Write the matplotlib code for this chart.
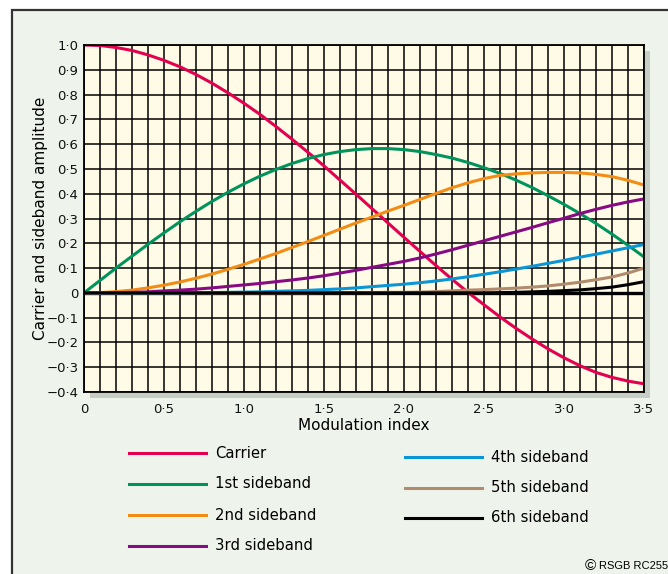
import numpy as np
import matplotlib.pyplot as plt
from matplotlib.lines import Line2D
from matplotlib.patches import Rectangle
from matplotlib.ticker import FuncFormatter

# modulation index, sampled every 0.1
index = np.linspace(0, 3.5, 36)

carrier = [1.000, 0.998, 0.990, 0.978, 0.960, 0.938, 0.912, 0.881, 0.846, 0.807,
           0.765, 0.720, 0.671, 0.620, 0.567, 0.512, 0.455, 0.398, 0.340, 0.282,
           0.224, 0.167, 0.110, 0.055, 0.002, -0.048, -0.097, -0.143, -0.186, -0.226,
           -0.262, -0.294, -0.321, -0.341, -0.356, -0.367]
side1 = [0.000, 0.050, 0.100, 0.148, 0.196, 0.242, 0.287, 0.329, 0.369, 0.406,
         0.440, 0.471, 0.498, 0.522, 0.542, 0.558, 0.570, 0.578, 0.582, 0.582,
         0.578, 0.570, 0.558, 0.544, 0.526, 0.505, 0.482, 0.455, 0.425, 0.392,
         0.357, 0.320, 0.280, 0.237, 0.192, 0.145]
side2 = [0.000, 0.001, 0.005, 0.011, 0.020, 0.031, 0.044, 0.059, 0.076, 0.095,
         0.115, 0.137, 0.159, 0.183, 0.207, 0.232, 0.257, 0.282, 0.306, 0.330,
         0.353, 0.377, 0.401, 0.424, 0.444, 0.461, 0.474, 0.480, 0.484, 0.486,
         0.486, 0.484, 0.478, 0.469, 0.454, 0.435]
side3 = [0.000, 0.000, 0.001, 0.002, 0.004, 0.008, 0.011, 0.015, 0.020, 0.026,
         0.032, 0.038, 0.045, 0.052, 0.060, 0.069, 0.080, 0.091, 0.103, 0.115,
         0.127, 0.141, 0.157, 0.174, 0.192, 0.210, 0.228, 0.246, 0.264, 0.283,
         0.301, 0.320, 0.337, 0.353, 0.367, 0.379]
side4 = [0.000, 0.000, 0.000, 0.000, 0.000, 0.000, 0.000, 0.001, 0.001, 0.002,
         0.003, 0.004, 0.006, 0.008, 0.010, 0.013, 0.016, 0.020, 0.025, 0.030,
         0.035, 0.041, 0.048, 0.056, 0.065, 0.075, 0.085, 0.096, 0.107, 0.119,
         0.131, 0.144, 0.156, 0.169, 0.182, 0.195]
side5 = [0.000, 0.000, 0.000, 0.000, 0.000, 0.000, 0.000, 0.000, 0.000, 0.000,
         0.000, 0.000, 0.000, 0.000, 0.000, 0.001, 0.001, 0.001, 0.001, 0.002,
         0.002, 0.003, 0.005, 0.008, 0.011, 0.013, 0.016, 0.019, 0.023, 0.028,
         0.035, 0.043, 0.053, 0.064, 0.080, 0.100]
side6 = [0.000, 0.000, 0.000, 0.000, 0.000, 0.000, 0.000, 0.000, 0.000, 0.000,
         0.000, 0.000, 0.000, 0.000, 0.000, 0.000, 0.000, 0.000, 0.000, 0.000,
         0.000, 0.000, 0.000, 0.000, 0.000, 0.000, 0.001, 0.002, 0.004, 0.006,
         0.009, 0.012, 0.017, 0.023, 0.033, 0.045]

labels = ['Carrier', '1st sideband', '2nd sideband', '3rd sideband',
          '4th sideband', '5th sideband', '6th sideband']
colors = ['#E2004F', '#00935B', '#F28C14', '#870A84', '#0A95D6', '#B08B6D', '#000000']
series = [carrier, side1, side2, side3, side4, side5, side6]

W, H = 668, 574
fig = plt.figure(figsize=(W / 100, H / 100), dpi=100)
fig.patch.set_facecolor('white')

def px(x0, y0, w, h):
    # pixel box (from top-left) -> figure fraction rect
    return [x0 / W, 1 - (y0 + h) / H, w / W, h / H]

# outer panel
r = px(12, 10, 700, 600)
fig.add_artist(Rectangle((r[0], r[1]), r[2], r[3], transform=fig.transFigure,
                         facecolor='#EEF4EC', edgecolor='#333333', lw=1.6, zorder=-3))
# drop shadow behind the grid
r = px(90, 51, 560, 347)
fig.add_artist(Rectangle((r[0], r[1]), r[2], r[3], transform=fig.transFigure,
                         facecolor='#C6CEC6', edgecolor='none', zorder=-2))

ax = fig.add_axes(px(84, 45, 560, 347))
ax.set_facecolor('#FFFBE7')
ax.set_xlim(0, 3.5)
ax.set_ylim(-0.4, 1.0)

ax.set_xticks(np.arange(0, 3.51, 0.5))
ax.set_xticks(np.arange(0, 3.51, 0.1), minor=True)
ax.set_yticks(np.arange(-0.4, 1.01, 0.1))

def fmt(v, pos):
    if abs(v) < 1e-9:
        return '0'
    s = '{:.1f}'.format(abs(v)).replace('.', '\u00b7')
    return ('\u2212' + s) if v < 0 else s

ax.xaxis.set_major_formatter(FuncFormatter(fmt))
ax.yaxis.set_major_formatter(FuncFormatter(fmt))
ax.tick_params(which='both', length=0, labelsize=9.5, colors='#111111')
ax.tick_params(axis='x', pad=8)
ax.tick_params(axis='y', pad=4)
ax.grid(which='both', color='black', lw=1.1)
ax.set_axisbelow(True)
for sp in ax.spines.values():
    sp.set_color('black')
    sp.set_linewidth(1.3)

ax.axhline(0, color='black', lw=2.4, zorder=1.5)
for vals, c in zip(series, colors):
    ax.plot(index, vals, color=c, lw=2.2, solid_capstyle='butt', zorder=2)

ax.set_xlabel('Modulation index', fontsize=11, labelpad=1)
ax.set_ylabel('Carrier and sideband amplitude', fontsize=11, labelpad=-1)

# key below the chart, two columns
left_rows = [453, 484, 515, 546]
right_rows = [457, 488, 518]
slots = [(129, 206, 215, y) for y in left_rows] + [(405, 482, 491, y) for y in right_rows]
for (x0, x1, xt, y), lab, c in zip(slots, labels, colors):
    fig.add_artist(Line2D([x0 / W, x1 / W], [1 - y / H, 1 - y / H],
                          transform=fig.transFigure, color=c, lw=2.2))
    fig.text(xt / W, 1 - y / H, lab, fontsize=10.7, va='center', ha='left')

fig.text(585 / W, 1 - 566 / H, '\u00a9', fontsize=11, family='Liberation Sans',
         ha='left', va='center')
fig.text(668 / W, 1 - 566 / H, 'RSGB RC255', fontsize=8, family='Liberation Sans',
         ha='right', va='center')

fig.savefig('out.png', dpi=100)
